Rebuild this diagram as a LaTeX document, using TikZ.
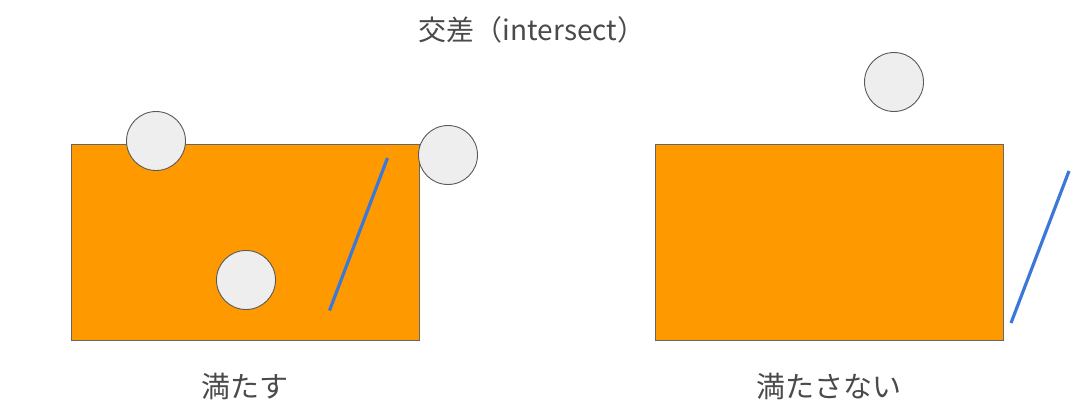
\documentclass[tikz,border=0pt]{standalone}
\usepackage{fontspec}
\setmainfont{Noto Sans CJK JP}
\usepackage{tikz}

\definecolor{boxorange}{HTML}{FF9900}
\definecolor{boxline}{HTML}{666666}
\definecolor{ballfill}{HTML}{EEEEEE}
\definecolor{ballline}{HTML}{595959}
\definecolor{segblue}{HTML}{3C78D8}
\definecolor{txtgray}{HTML}{4A4A4A}

\begin{document}
\begin{tikzpicture}[x=1pt, y=-1pt,
    area/.style={rectangle, draw=boxline, fill=boxorange, line width=0.9pt, inner sep=0pt, minimum width=348pt, minimum height=196pt},
    ball/.style={circle, draw=ballline, fill=ballfill, line width=0.9pt, inner sep=0pt, minimum size=59pt},
    seg/.style={draw=segblue, line width=3.2pt},
    caption/.style={text=txtgray, font=\fontsize{29}{34}\selectfont, inner sep=0pt}]

        \useasboundingbox (0,0) rectangle (1080,415);

        % Title
        \node[caption, font=\fontsize{28}{33}\selectfont] (title) at (532, 30) {交差（intersect）};

        % Left case: everything touches the box
        \node[area] (boxL) at (245, 242) {};
        \node[ball] (b1) at (156, 141) {};
        \node[ball] (b2) at (448, 155) {};
        \node[ball] (b3) at (246, 280) {};
        \coordinate (s1a) at (387.5, 158);
        \coordinate (s1b) at (329.5, 310.5);
        \draw[seg] (s1a) -- (s1b);
        \node[caption] (okL) at (245, 386) {満たす};

        % Right case: nothing touches the box
        \node[area] (boxR) at (829, 242) {};
        \node[ball] (b4) at (894, 82) {};
        \coordinate (s2a) at (1069, 171);
        \coordinate (s2b) at (1011, 323);
        \draw[seg] (s2a) -- (s2b);
        \node[caption] (ngR) at (829, 386) {満たさない};
\end{tikzpicture}
\end{document}
